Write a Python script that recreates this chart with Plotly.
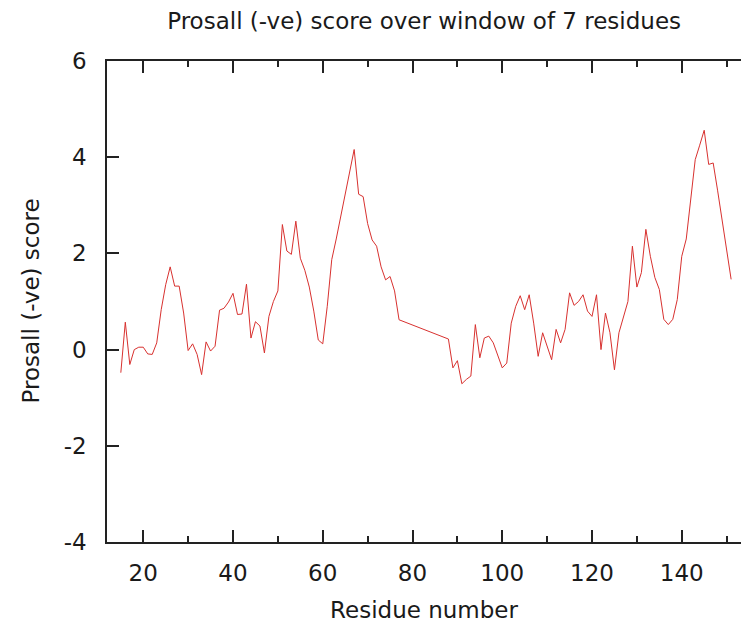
import plotly.graph_objects as go

residues = list(range(15, 78)) + list(range(88, 152))
scores = [
    -0.48, 0.57, -0.31, 0.00, 0.05, 0.05, -0.09, -0.10, 0.14, 0.83,   # 15-24
    1.35, 1.72, 1.32, 1.32, 0.76, -0.02, 0.12, -0.10, -0.52, 0.16,     # 25-34
    -0.03, 0.07, 0.82, 0.86, 0.99, 1.17, 0.73, 0.74, 1.36, 0.24,       # 35-44
    0.58, 0.49, -0.07, 0.69, 1.00, 1.22, 2.60, 2.05, 1.98, 2.67,       # 45-54
    1.90, 1.65, 1.30, 0.80, 0.20, 0.12, 0.90, 1.87, 2.30, 2.75,        # 55-64
    3.25, 3.70, 4.16, 3.23, 3.18, 2.62, 2.28, 2.15, 1.72, 1.45,        # 65-74
    1.52, 1.22, 0.62,                                                  # 75-77
    0.22, -0.38, -0.23, -0.71, -0.62, -0.55, 0.52, -0.17, 0.24, 0.28,  # 88-97
    0.14, -0.14, -0.38, -0.28, 0.55, 0.90, 1.12, 0.83, 1.14, 0.55,     # 98-107
    -0.14, 0.35, 0.05, -0.21, 0.42, 0.14, 0.42, 1.18, 0.92, 1.00,      # 108-117
    1.14, 0.80, 0.69, 1.14, 0.00, 0.76, 0.35, -0.42, 0.35, 0.70,       # 118-127
    1.00, 2.15, 1.30, 1.60, 2.50, 1.94, 1.50, 1.25, 0.63, 0.52,        # 128-137
    0.63, 1.04, 1.94, 2.30, 3.10, 3.95, 4.25, 4.56, 3.85, 3.88,        # 138-147
    3.30, 2.70, 2.10, 1.46,                                            # 148-151
]

x_ticks = [20, 40, 60, 80, 100, 120, 140]
y_ticks = [-4, -2, 0, 2, 4, 6]
y_tick_labels = ["-4", "-2", "0", "2", "4", "6"]

title_text = "Prosall (-ve) score over window of 7 residues"
x_title = "Residue number"
y_title = "Prosall (-ve) score"

FONT = "DejaVu Sans"
fsize = 23

fig = go.Figure()
fig.add_trace(go.Scatter(
    x=residues, y=scores, mode="lines",
    line=dict(color="#d8312f", width=1),
    showlegend=False, hoverinfo="skip",
))

fig.update_layout(
    width=741, height=628,
    margin=dict(l=107, r=0, t=61, b=86, pad=0),
    paper_bgcolor="white", plot_bgcolor="white",
    font=dict(family=FONT, size=fsize, color="#1a1a1a"),
    title=dict(text=title_text, x=0.5724, xanchor="center",
               y=1 - 21 / 628, yanchor="middle", yref="container",
               font=dict(family=FONT, size=fsize, color="#1a1a1a")),
    xaxis=dict(
        range=[11.92, 153.2], tickvals=x_ticks, ticks="inside", ticklen=12,
        tickwidth=1.5, tickcolor="#222", showline=True, linecolor="#222",
        linewidth=1.5, mirror="allticks", showgrid=False, zeroline=False,
        ticklabelstandoff=10,
        minor=dict(dtick=10, tick0=0, ticks="inside", ticklen=6,
                   tickwidth=1.5, tickcolor="#222", showgrid=False),
        title=dict(text=x_title, standoff=17,
                   font=dict(family=FONT, size=fsize)),
    ),
    yaxis=dict(
        range=[-4, 6], tickvals=y_ticks, ticktext=y_tick_labels,
        ticks="inside", ticklen=12,
        tickwidth=1.5, tickcolor="#222", showline=True, linecolor="#222",
        linewidth=1.5, mirror=False, showgrid=False, zeroline=False,
        ticklabelstandoff=14,
    ),
    yaxis2=dict(
        range=[-4, 6], tickvals=y_ticks, overlaying="y", side="right",
        anchor="x", ticks="inside", ticklen=4, tickwidth=1.5,
        tickcolor="#222", showline=False, showticklabels=False,
        showgrid=False, zeroline=False,
    ),
    annotations=[dict(
        text=y_title, xref="paper", yref="paper",
        x=(30 - 107) / 634, y=0.5, xanchor="center", yanchor="middle",
        textangle=-90, showarrow=False,
        font=dict(family=FONT, size=fsize, color="#1a1a1a"),
    )],
)

fig.write_html("out.html",
               config={"displayModeBar": False},
               post_script="document.body.style.margin='0';document.body.style.overflow='hidden';")
